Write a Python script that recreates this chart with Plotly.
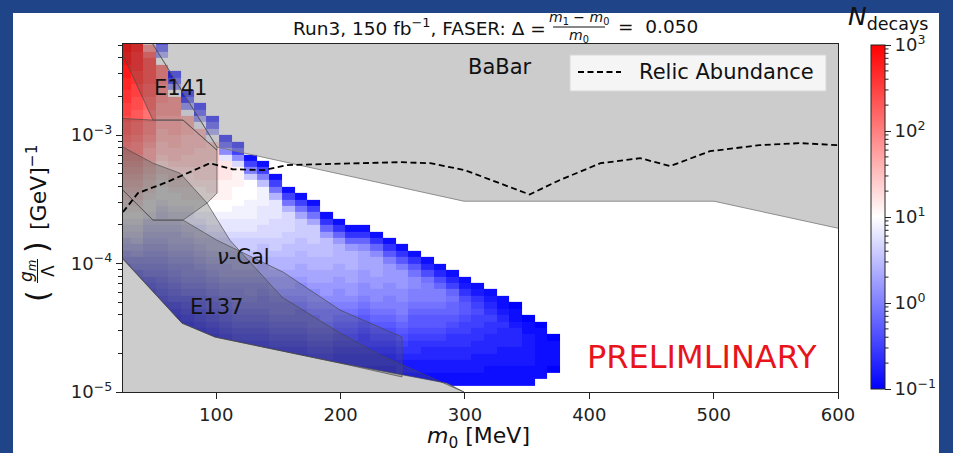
import numpy as np
import plotly.graph_objects as go

FONT = "DejaVu Sans"

# ---------------- data ----------------
# heat-map grid: mass bin edges [MeV] (35 columns) and coupling rows (0.05 decade)
MASS_EDGES = [21.0, 31.15, 41.3, 51.45, 61.6, 71.75, 81.9, 92.05, 102.2, 112.35,
              122.5, 132.65, 142.8, 152.95, 163.1, 173.25, 183.4, 193.55, 203.7,
              213.85, 224.0, 234.15, 244.3, 254.45, 264.6, 274.75, 284.9, 295.05,
              305.2, 315.35, 325.5, 335.65, 345.8, 355.95, 366.1, 376.25]
N_ROWS = 55
G_EDGES = np.logspace(-5, -2.25, N_ROWS + 1)

# log10(N_decays) per cell, one string per mass column (bottom row first).
# char k of LEVEL_CHARS  ->  log10 N = -1 + 0.1*k ;  '.' = no events
LEVEL_CHARS = "0123456789abcdefghijklmnopqrstuvwxyzABCDE"
COL_LEVELS = [
    "." * 15 + "13579bcefh" + "ijklmnopqr" + "stuvwxxyzz" + "AABBCCDDEE",
    "." * 14 + "13578abdeg" + "hijklmnopq" + "rstuuvwwxx" + "yyzzAABBBC" + "C",
    "." * 12 + "1245679abc" + "defghjkklm" + "nopqrrstuu" + "vvwwxxyyy" + "ywsm",
    "." * 10 + "123456789a" + "bcdefghhij" + "kklmnnoppq" + "qrrsstttuu" + "u" + "kc51",
    "." * 10 + "12346789ab" + "cdeffghijk" + "klmnnoppqq" + "rrrsss" + "kc51",
    "." * 9 + "12345689ab" + "bcdefghiij" + "kllmmnoopp" + "pqqq" + "jc51",
    "." * 8 + "123456789a" + "bcdefghhij" + "kkllmnnooo" + "ppp" + "jc51",
    "." * 7 + "123456789a" + "bcdefgghij" + "jkklmmnnno" + "oo" + "jc51",
    "." * 6 + "123456789a" + "bcddefgghi" + "ijkklllmmm" + "ib51",
    "." * 5 + "123456789a" + "abcdeefggh" + "iijjkkklll" + "hb51",
    "." * 5 + "123456789a" + "bbcdeefggh" + "iijjjkkk" + "ga51",
    "." * 5 + "1234567899" + "abcddeffgh" + "hiiijjj" + "fa51",
    "." * 4 + "1234567899" + "abccdeefgg" + "hhhiii" + "e951",
    "." * 4 + "1234567899" + "abccdeeffg" + "ghhh" + "e951",
    "." * 4 + "1234567889" + "abbcddeeff" + "ggg" + "d951",
    "." * 3 + "1234567889" + "abbcddeeff" + "ggg" + "d951",
    "." * 3 + "1234567899" + "abccddeeff" + "f" + "c841",
    "." * 2 + "1122345678" + "9abbccddee" + "e" + "c841",
    "." * 2 + "1122345678" + "9abccddeee" + "c841",
    "." * 2 + "1122344567" + "89abbccddd" + "b841",
    "." * 2 + "1122345678" + "9abbccddd" + "b841",
    "." * 2 + "1122345678" + "9aabbccc" + "a741",
    "." * 1 + "1122345678" + "9aabbccc" + "a741",
    "." + "1122344567" + "789aabb" + "9741",
    "." + "1122334567" + "789aaa" + "9631",
    "." + "1122334567" + "789aa" + "8631",
    "." + "1122334456" + "7889" + "8531",
    "." + "1122334455" + "677" + "6421",
    "." + "1122233445" + "56" + "5421",
    "." + "1112233344" + "5" + "4321",
    "." + "1112223334" + "3211",
    "." + "111222333" + "2110",
    "." + "11122222110",
    ".." + "111111110",
    "..." + "011110",
]

# relic abundance curve
RELIC_M = [25, 37, 60, 95, 113, 138, 157, 207, 248, 272, 300, 352, 376, 409, 441, 465, 497, 537, 570, 600]
RELIC_G = [2.52e-4, 3.54e-4, 4.30e-4, 6.05e-4, 5.43e-4, 5.34e-4, 5.85e-4, 6.05e-4, 6.16e-4, 6.05e-4,
           5.34e-4, 3.45e-4, 4.46e-4, 6.05e-4, 6.62e-4, 5.74e-4, 7.50e-4, 8.36e-4, 8.67e-4, 8.36e-4]

# excluded regions (polygons, mass [MeV], coupling [GeV^-1])
BABAR_M = [41.9, 100.6, 299.2, 500.3, 620, 620]
BABAR_G = [6.6e-3, 8.07e-4, 3.06e-4, 3.06e-4, 1.71e-4, 6.6e-3]
E141_M = [15.8, 49.1, 73.3, 100.6, 100.6, 41.9]
E141_G = [6.6e-3, 1.31e-3, 1.31e-3, 7.64e-4, 8.07e-4, 6.6e-3]
E141B_M = [21.0, 49.1, 73.3, 100.6, 100.6, 92.6, 73.3, 49.1, 25.0, 21.0]
E141B_G = [1.355e-3, 1.31e-3, 1.31e-3, 7.64e-4, 3.54e-4, 2.96e-4, 2.18e-4, 2.18e-4, 3.73e-4, 4.08e-4]
NUCAL_M = [21.0, 25.0, 49.1, 73.3, 100.6, 153.7, 199.5, 249.4, 249.4, 199.5, 99.0, 72.4, 25.0, 21.0]
NUCAL_G = [4.08e-4, 3.73e-4, 2.18e-4, 2.18e-4, 1.52e-4, 8.59e-5, 4.35e-5, 2.68e-5, 1.31e-5, 1.68e-5,
           2.68e-5, 3.44e-5, 1.08e-4, 1.21e-4]
E137_M = [21.0, 25.0, 49.1, 70.8, 92.6, 111.0, 152.9, 199.5, 231.7, 296.0, 299.2, 285.6, 199.5, 99.0,
          72.4, 25.0, 21.0]
E137_G = [8.51e-4, 8.07e-4, 6.05e-4, 5.06e-4, 2.96e-4, 1.52e-4, 5.48e-5, 2.88e-5, 1.94e-5, 1.04e-5,
          1.0e-5, 1.17e-5, 1.68e-5, 2.68e-5, 3.44e-5, 1.08e-4, 1.21e-4]
LOWER_M = [14.5, 25.0, 72.4, 99.0, 199.5, 285.6, 299.2, 310.0, 14.5]
LOWER_G = [1.42e-4, 1.08e-4, 3.44e-5, 2.68e-5, 1.68e-5, 1.17e-5, 1.0e-5, 9.0e-6, 9.0e-6]

# labels
LABELS = [("BaBar", 328.0, 3.38e-3), ("E141", 71.6, 2.32e-3),
          ("<i>ν</i>-Cal", 122.3, 1.12e-4), ("E137", 99.8, 4.58e-5)]
PRELIM = ("PRELIMLINARY", 490.6, 1.87e-5)
LEGEND_NAME = "Relic Abundance"

X_TICKS = [100, 200, 300, 400, 500, 600]
Y_TICKS = [1e-5, 1e-4, 1e-3]
Y_TICK_TEXT = ["10<sup>−5</sup>", "10<sup>−4</sup>", "10<sup>−3</sup>"]
Y_MINOR = [k * 10.0 ** e for e in (-5, -4, -3) for k in range(2, 10)]
CB_TICKS = [-1, 0, 1, 2, 3]
CB_TEXT = ["10<sup>−1</sup>", "10<sup>0</sup>", "10<sup>1</sup>", "10<sup>2</sup>", "10<sup>3</sup>"]
CB_MINOR = [np.log10(k) + e for e in (-1, 0, 1, 2) for k in range(2, 10)]

# ---------------- build ----------------
z = [[None] * len(COL_LEVELS) for _ in range(N_ROWS)]
for i, s in enumerate(COL_LEVELS):
    s = s.ljust(N_ROWS, ".")[:N_ROWS]
    for j, ch in enumerate(s):
        if ch != ".":
            z[j][i] = -1 + 0.1 * LEVEL_CHARS.index(ch)

BWR = [[0.0, "rgb(0,0,255)"], [0.5, "rgb(255,255,255)"], [1.0, "rgb(255,0,0)"]]
DASH = "6px,3.5px"
INK = "#111"

# colour-bar geometry (pixels)
CB_X, CB_W, CB_TOP, CB_BOT = 871, 14, 45, 389

fig = go.Figure()
fig.add_trace(go.Scatter(x=LOWER_M, y=LOWER_G, fill="toself", fillcolor="#cccccc",
                         mode="lines", line=dict(width=0, color="#cccccc"),
                         hoverinfo="skip", showlegend=False))
fig.add_trace(go.Heatmap(
    x=MASS_EDGES, y=G_EDGES, z=z, colorscale=BWR, zmin=-1, zmax=3, hoverinfo="skip",
    colorbar=dict(thickness=CB_W, len=CB_BOT - CB_TOP, lenmode="pixels",
                  x=(CB_X - 123) / 715.0, xanchor="left", xpad=0, ypad=0,
                  y=(392 - (CB_TOP + CB_BOT) / 2) / 348.0, yanchor="middle",
                  tickvals=CB_TICKS, ticktext=CB_TEXT, ticks="outside", ticklen=6,
                  tickwidth=1.2, tickcolor="#222", outlinewidth=1, outlinecolor="#222",
                  tickfont=dict(size=18, family=FONT, color="#222"))))
fig.add_trace(go.Scatter(x=BABAR_M, y=BABAR_G, fill="toself", fillcolor="rgba(153,153,153,0.5)",
                         mode="lines", line=dict(width=1, color="rgba(120,120,120,0.8)"),
                         hoverinfo="skip", showlegend=False))
for mm, gg in ((E141_M, E141_G), (E141B_M, E141B_G), (NUCAL_M, NUCAL_G), (E137_M, E137_G)):
    fig.add_trace(go.Scatter(x=mm, y=gg, fill="toself", fillcolor="rgba(85,85,85,0.31)",
                             mode="lines", line=dict(width=1, color="rgba(70,70,70,0.65)"),
                             hoverinfo="skip", showlegend=False))
fig.add_trace(go.Scatter(x=RELIC_M, y=RELIC_G, mode="lines", name=LEGEND_NAME, showlegend=False,
                         line=dict(color="black", width=1.8, dash=DASH), hoverinfo="skip"))


def px(x):
    return (x - 123) / 715.0


def py(y):
    return (392 - y) / 348.0


def ptext(x, y, text, size, anchor="center", angle=0):
    return dict(x=px(x), y=py(y), xref="paper", yref="paper", xanchor=anchor, yanchor="middle",
                text=text, showarrow=False, textangle=angle,
                font=dict(size=size, family=FONT, color=INK))


ann = []
for txt, m, g in LABELS:
    ann.append(dict(x=m, y=np.log10(g), xref="x", yref="y", text=txt, showarrow=False,
                    font=dict(size=21, family=FONT, color=INK)))
ann.append(dict(x=PRELIM[1], y=np.log10(PRELIM[2]), xref="x", yref="y", text=PRELIM[0],
                showarrow=False, font=dict(size=32, family=FONT, color="#e8141c")))

ann += [
    # title with a stacked fraction
    ptext(548, 27, "Run3, 150 fb<sup>−1</sup>, FASER: Δ =", 18.5, "right"),
    ptext(579, 18, "<i>m</i><sub>1</sub> − <i>m</i><sub>0</sub>", 14),
    ptext(579, 36, "<i>m</i><sub>0</sub>", 14),
    ptext(616, 27, "=\u00a0\u00a00.050", 18.5, "left"),
    # colour-bar title
    ptext(888, 18, "<i>N</i><sub>decays</sub>", 25),
    # x title
    ptext(478, 437, "<i>m</i><sub>0</sub> [MeV]", 22),
    # y title: (g_m / Λ) [GeV]^-1, rotated
    ptext(37, 187, "[GeV]<sup>−1</sup>", 22, angle=-90),
    ptext(37, 296, "(", 30, angle=-90),
    ptext(37, 247, ")", 30, angle=-90),
    ptext(27, 271, "<i>g<sub>m</sub></i>", 17, angle=-90),
    ptext(48, 271, "Λ", 17, angle=-90),
    # legend text
    ptext(637, 72, LEGEND_NAME, 21, "left"),
]

shapes = [
    dict(type="rect", xref="paper", yref="paper", x0=px(13), x1=px(939), y0=py(470), y1=py(13),
         fillcolor="white", line=dict(width=0), layer="below"),
    dict(type="line", xref="paper", yref="paper", x0=px(553), x1=px(605), y0=py(27), y1=py(27),
         line=dict(color=INK, width=1)),
    # fraction bar of the y title
    dict(type="line", xref="paper", yref="paper", x0=px(37.5), x1=px(37.5), y0=py(259), y1=py(283),
         line=dict(color=INK, width=1)),
    # legend frame and sample
    dict(type="rect", xref="paper", yref="paper", x0=px(570), x1=px(826), y0=py(91), y1=py(55),
         fillcolor="rgba(255,255,255,0.8)", line=dict(color="rgba(215,215,215,1)", width=1),
         layer="above"),
    dict(type="line", xref="paper", yref="paper", x0=px(578), x1=px(621), y0=py(72), y1=py(72),
         line=dict(color="black", width=1.8, dash=DASH), layer="above"),
]
# minor ticks of the logarithmic colour bar
for v in CB_MINOR:
    yy = CB_BOT - (v + 1) / 4.0 * (CB_BOT - CB_TOP)
    shapes.append(dict(type="line", xref="paper", yref="paper", x0=px(CB_X + CB_W),
                       x1=px(CB_X + CB_W + 3.5), y0=py(yy), y1=py(yy),
                       line=dict(color="#222", width=1)))

fig.update_layout(
    width=953, height=453, margin=dict(l=123, r=115, t=44, b=61),
    paper_bgcolor="#1f4487", plot_bgcolor="white",
    font=dict(family=FONT, color=INK),
    annotations=ann, shapes=shapes, showlegend=False,
    xaxis=dict(range=[25, 600], tickvals=X_TICKS, ticks="outside", ticklen=6, tickwidth=1.2,
               tickcolor="#222", showline=True, linecolor="#222", linewidth=1.2, mirror=True,
               showgrid=False, zeroline=False, tickfont=dict(size=18, family=FONT, color="#222")),
    yaxis=dict(type="log", range=[-5, -2.29], tickvals=Y_TICKS, ticktext=Y_TICK_TEXT,
               ticks="outside", ticklen=6, tickwidth=1.2, tickcolor="#222", showline=True,
               linecolor="#222", linewidth=1.2, mirror=True, showgrid=False, zeroline=False,
               tickfont=dict(size=18, family=FONT, color="#222"),
               minor=dict(tickvals=Y_MINOR, ticks="outside", ticklen=3.5, tickwidth=1,
                          tickcolor="#222", showgrid=False)),
)

fig.write_html("out.html")
